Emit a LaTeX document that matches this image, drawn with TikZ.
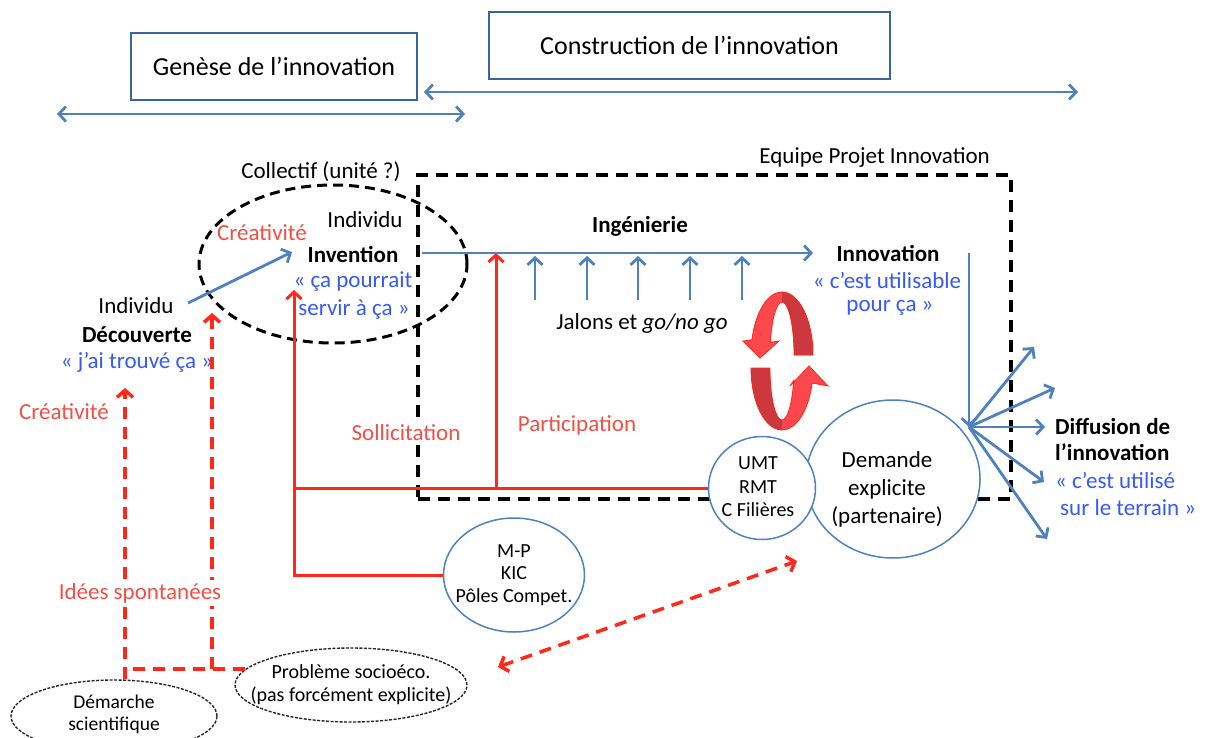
\documentclass[tikz,border=0pt]{standalone}
\usepackage{fontspec}
\setmainfont{Carlito}
\usetikzlibrary{arrows.meta,shapes.geometric,calc}
\definecolor{bl}{RGB}{79,129,189}
\definecolor{bx}{RGB}{60,100,160}
\definecolor{tblue}{RGB}{55,90,245}
\definecolor{rl}{RGB}{255,40,25}
\definecolor{rt}{RGB}{240,80,70}
\definecolor{rlight}{RGB}{250,72,78}
\definecolor{rdark}{RGB}{205,55,62}
\tikzset{
  txt/.style={inner sep=0pt, font=\fontsize{23}{28}\selectfont, align=center},
  topbox/.style={draw=bx, line width=2.5pt, fill=white, font=\fontsize{26}{30}\selectfont, inner sep=0pt},
  bla/.style={draw=bl, line width=2.8pt, -{Straight Barb[length=7pt,width=15pt]}},
  blb/.style={draw=bl, line width=2.8pt, {Straight Barb[length=7pt,width=15pt]}-{Straight Barb[length=7pt,width=15pt]}},
  redl/.style={draw=rl, line width=3pt},
  reda/.style={draw=rl, line width=3pt, -{Straight Barb[length=7pt,width=15pt]}},
  redd/.style={draw=rl, line width=3.5pt, dash pattern=on 12pt off 8pt, -{Straight Barb[length=7pt,width=16pt]}},
  blk/.style={draw=black, line width=3.5pt, dash pattern=on 12pt off 8pt},
  circ/.style={draw=bl, line width=1.5pt, fill=white, ellipse, inner sep=0pt},
  dotell/.style={draw=black!85, line width=1.4pt, dash pattern=on 3pt off 1.5pt, fill=white, ellipse, inner sep=0pt}
}
\begin{document}
\begin{tikzpicture}[x=1pt,y=-1pt]
\useasboundingbox[fill=white] (0,0) rectangle (1207,738);

% top boxes and arrows
\node[topbox, minimum width=286pt, minimum height=67pt] (gen) at (274,66.5) {Genèse de l’innovation};
\node[topbox, minimum width=401pt, minimum height=67pt] (con) at (689.5,45.5) {Construction de l’innovation};
\coordinate (a1l) at (57,114); \coordinate (a1r) at (465,114);
\coordinate (a2l) at (424,92);  \coordinate (a2r) at (1078,92);
\draw[blb] (a1l) -- (a1r);
\draw[blb] (a2l) -- (a2r);

% team rectangle
\node[blk, minimum width=593pt, minimum height=324pt, inner sep=0pt] (team) at (714.5,337) {};
\node[txt, anchor=east] (eq) at (990,158) {Equipe Projet Innovation};

% collectif ellipse
\node[blk, line width=3pt, dash pattern=on 10pt off 6pt, ellipse, minimum width=268pt, minimum height=158pt, inner sep=0pt] (coll) at (333,264) {};
\node[txt] (colt) at (321,172) {Collectif (unité ?)};

% red lines (sollicitation / participation)
\coordinate (soltip) at (294,290);
\coordinate (pbase) at (496,488);
\coordinate (ptip) at (496,253);
\node[circ, minimum width=141pt, minimum height=114pt] (mp) at (514,575) {};
\node[txt, font=\fontsize{20}{22.5}\selectfont] (mpt) at (mp.center) {M-P\\KIC\\Pôles Compet.};
\node[circ, minimum width=174pt, minimum height=158pt] (dem) at (893,479) {};
\node[circ, minimum width=107pt, minimum height=103pt] (umt) at (762,488) {};
\node[txt, font=\fontsize{20}{23.5}\selectfont] (umtt) at (758,487) {UMT\\RMT\\C Filières};
\draw[redl] (umt.west) -- (umt.west -| soltip);
\draw[reda] (mp.west) -| (soltip);
\draw[reda] (pbase) -- (ptip);
\node[txt] (demt) at (887,489) {Demande\\explicite\\(partenaire)};

% ingénierie
\coordinate (ings) at (422,253); \coordinate (inge) at (813,253);
\draw[bla] (ings) -- (inge);
\foreach \x [count=\i] in {535,587,638,690,742} {
  \coordinate (jb\i) at (\x,300); \coordinate (jt\i) at (\x,256);
  \draw[bla] (jb\i) -- (jt\i);
}
\node[txt, font=\fontsize{23}{28}\bfseries] (ing) at (640,226) {Ingénierie};
\node[txt] (jal) at (642,323) {Jalons et \textit{go/no go}};

% innovation
\node[txt, font=\fontsize{23}{28}\bfseries] (inn) at (888,253) {Innovation};
\node[txt, text=tblue] (inn2) at (887,280) {« c’est utilisable};
\node[txt, text=tblue] (inn3) at (890,308) {pour ça »};
\coordinate (vtop) at (969,253); \coordinate (hub) at (969,427);
\draw[bla] (vtop) -- (hub);
\coordinate (d1) at (1034,347); \coordinate (d2) at (1055,388);
\coordinate (d3) at (1045,427); \coordinate (d4) at (1044,482);
\coordinate (d5) at (1047,539);
\foreach \d in {d1,d2,d3,d4,d5} \draw[bla] (hub) -- (\d);
\node[txt, anchor=west, font=\fontsize{23}{28}\bfseries] (dif1) at (1055,427) {Diffusion de};
\node[txt, anchor=west, font=\fontsize{23}{28}\bfseries] (dif2) at (1055,452) {l’innovation};
\node[txt, anchor=west, text=tblue] (dif3) at (1055,480) {« c’est utilisé};
\node[txt, anchor=west, text=tblue] (dif4) at (1060,508) {sur le terrain »};

% cycle ribbons
\def\ribA{(813,355) arc[start angle=0,end angle=-166,x radius=31,y radius=63] -- (743,341) -- (760,358) -- (779,341) -- (770.4,342.2) arc[start angle=-166,end angle=0,x radius=12,y radius=53] -- cycle}
\def\ribB{(751,368) arc[start angle=180,end angle=14,x radius=31,y radius=62] -- (828,386) -- (809,366) -- (790,386) -- (793.6,380.6) arc[start angle=14,end angle=180,x radius=12,y radius=52] -- cycle}
\fill[rlight] \ribA;
\begin{scope}\clip (782,280) rectangle (830,358); \fill[rdark] \ribA; \end{scope}
\draw[rl, line width=0.8pt] \ribA;
\fill[rlight] \ribB;
\begin{scope}\clip (730,366) rectangle (782,440); \fill[rdark] \ribB; \end{scope}
\draw[rl, line width=0.8pt] \ribB;

% découverte / invention
\node[txt] (ind1) at (136,306) {Individu};
\node[txt, font=\fontsize{23}{28}\bfseries] (dec) at (137,335) {Découverte};
\node[txt, text=tblue] (tro) at (137,362) {« j’ai trouvé ça »};
\node[txt, text=rt] (cre1) at (64,412) {Créativité};
\node[txt, text=rt] (cre2) at (262,233) {Créativité};
\node[txt] (ind2) at (365,220) {Individu};
\node[txt, font=\fontsize{23}{28}\bfseries] (inv) at (353,254) {Invention};
\node[txt, text=tblue] (inv2) at (353,282) {« ça pourrait};
\node[txt, text=tblue] (inv3) at (354,310) {servir à ça »};
\coordinate (dstart) at (188,303); \coordinate (iend) at (292,252);
\draw[bla] (dstart) -- (iend);

% labels on red lines
\node[txt, text=rt, fill=white, inner sep=2pt] (sol) at (406,433) {Sollicitation};
\node[txt, text=rt] (par) at (577,425) {Participation};

% bottom ellipses and dashed red
\node[dotell, minimum width=206pt, minimum height=72pt] (dm) at (114,716) {};
\node[txt, font=\fontsize{19.5}{22}\selectfont] (dmt) at (114,714) {Démarche\\scientifique};
\node[dotell, minimum width=232pt, minimum height=74pt] (pb) at (351,685) {};
\node[txt, font=\fontsize{20}{23}\selectfont] (pbt) at (pb.center) {Problème socioéco.\\(pas forcément explicite)};
\coordinate (c1) at (125,669); \coordinate (c2) at (212,669);
\coordinate (c3) at ($(pb.center)+(-106,-16)$);
\coordinate (t1) at (125,388); \coordinate (t2) at (212,313);
\draw[redd, -] (c3) -- (c1);
\draw[redd] (c1 |- dm.north) -- (t1);
\draw[redd] (c2) -- (t2);
\node[txt, text=rt, fill=white, inner sep=3pt] (ids) at (140,593) {Idées spontanées};
\coordinate (rd1) at (498,667); \coordinate (rd2) at (797,561);
\draw[redd, {Straight Barb[length=7pt,width=16pt]}-{Straight Barb[length=7pt,width=16pt]}] (rd1) -- (rd2);
\end{tikzpicture}
\end{document}
